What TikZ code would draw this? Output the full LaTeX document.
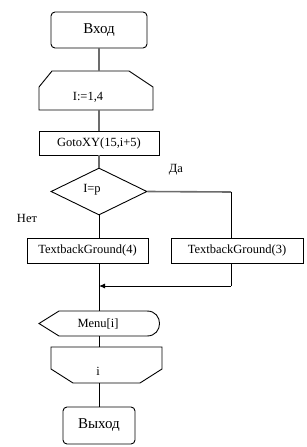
\documentclass[tikz,border=0pt]{standalone}
\usepackage{fontspec}
\setmainfont{Liberation Serif}
\usetikzlibrary{arrows.meta,shapes.geometric}
\begin{document}
\begin{tikzpicture}[x=1pt,y=-1pt,
  ln/.style={line width=0.9pt,black},
  gln/.style={line width=1.6pt,gray!85!black},
  txt/.style={font=\fontsize{12.5}{14}\selectfont,inner sep=0pt},
  bigtxt/.style={font=\fontsize{15}{17}\selectfont,inner sep=0pt},
  term/.style={draw,line width=0.9pt,rounded corners=4pt,inner sep=0pt},
  proc/.style={draw,line width=0.9pt,inner sep=0pt},
  ghost/.style={inner sep=0pt,draw=none}]
\useasboundingbox (0,0) rectangle (306,447);

% terminal: entry
\node[term,bigtxt,minimum width=96pt,minimum height=36pt] (start) at (99,30) {Вход};

% loop start
\node[ghost,minimum width=114pt,minimum height=39pt] (loop) at (96,90.5) {};
\draw[ln] (39,110) -- (39,87) -- (52,71) -- (129,71) -- (153,87) -- (153,110) -- cycle;
\node[txt] (loopt) at (88,97) {I:=1,4};

% process GotoXY
\node[proc,txt,minimum width=120pt,minimum height=24pt] (goto) at (99,143) {GotoXY(15,i+5)};

% decision
\node[ghost,diamond,draw,line width=0.9pt,minimum width=96pt,minimum height=47pt] (dia) at (99,191.5) {};
\node[txt] (diat) at (92,190) {I=p};
\node[txt] (yes) at (176,170) {Да};
\node[txt] (no) at (27,218) {Нет};

% branches
\node[proc,txt,minimum width=121pt,minimum height=25pt] (tb4) at (87.5,250.5) {TextbackGround(4)};
\node[proc,txt,minimum width=132pt,minimum height=25pt] (tb3) at (237,250.5) {TextbackGround(3)};

\coordinate (rc) at (231,192);
\coordinate (rb) at (231,286);
\coordinate (mj) at (99,286);

% display Menu[i]
\node[ghost,minimum width=120pt,minimum height=25pt] (menu) at (99,323.5) {};
\draw[ln] (39,323.5) -- (59,311) -- (147,311) .. controls (163.7,311) and (163.7,336) .. (147,336) -- (59,336) -- cycle;
\node[txt] (menut) at (98,323.5) {Menu[i]};

% loop end
\node[ghost,minimum width=111pt,minimum height=36pt] (le) at (106.5,365) {};
\draw[ln] (51,347) -- (162,347) -- (162,369) -- (140,383) -- (73,383) -- (51,369) -- cycle;
\node[txt] (let) at (98,371) {i};

% terminal: exit
\node[term,bigtxt,minimum width=72pt,minimum height=37pt] (stop) at (99,425.5) {Выход};

% connectors
\draw[gln] (start.south) -- (start.south |- loop.north);
\draw[gln] (loop.south -| goto.north) -- (goto.north);
\draw[gln] (goto.south) -- (dia.north);
\draw[ln] (dia.south) -- (dia.south |- tb4.north);
\draw[gln] (dia.east) -- (rc);
\draw[ln] (rc) -- (rc |- tb3.north);
\draw[ln] (rc |- tb3.south) -- (rb);
\draw[ln,-{Latex[length=6pt,width=5pt]}] (rb) -- (mj);
\draw[ln] (tb4.south -| dia.south) -- (menu.north);
\draw[ln] (menu.south) -- (menu.south |- le.north);
\draw[ln] (le.south -| stop.north) -- (stop.north);
\end{tikzpicture}
\end{document}
